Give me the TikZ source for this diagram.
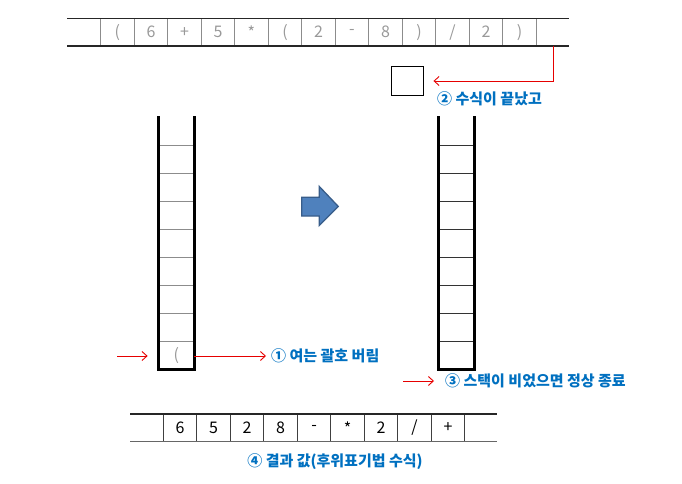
\documentclass[tikz,border=0pt]{standalone}
\usepackage{fontspec}
\setmainfont{Noto Sans CJK KR}
\usetikzlibrary{arrows.meta}
\definecolor{lblblue}{RGB}{0,112,192}
\definecolor{redl}{RGB}{230,0,0}
\definecolor{arrfill}{RGB}{79,129,189}
\definecolor{arrdraw}{RGB}{56,93,138}
\tikzset{
  cellt/.style={inner sep=0pt, minimum width=33.5pt, minimum height=27.7pt, text=black!40, font=\fontsize{16}{16}\selectfont},
  cellb/.style={inner sep=0pt, minimum width=33.5pt, minimum height=27.7pt, text=black, font=\fontsize{16}{16}\selectfont},
  scell/.style={inner sep=0pt, minimum width=35pt, minimum height=27.9pt, text=black!40, font=\fontsize{16}{16}\selectfont},
  lbl/.style={inner sep=0pt, text=lblblue, font=\fontsize{15}{15}\selectfont\bfseries},
  redarrow/.style={draw=redl, line width=0.9pt, -{Straight Barb[length=5pt,width=9pt]}},
  thickl/.style={line width=3pt, line cap=rect},
}
\begin{document}
\begin{tikzpicture}[x=1pt,y=-1pt]
\useasboundingbox (0,0) rectangle (682,484);
% ---------- top array ----------
\foreach \c [count=\i from 0] in {{(},6,+,5,*,{(},2,-,8,{)},/,2,{)}}{
  \node[cellt] (t\i) at ({117.45+33.5*\i},32.15) {\c};
}
\node[cellt] (t13) at ({117.45+33.5*13},32.15) {};
\foreach \k in {0,...,13}{
  \draw[black!45, line width=0.9pt] ({100.7+33.5*\k},18.3) -- ({100.7+33.5*\k},46);
}
\draw[black!85, line width=1.1pt] (67,18.3) -- (569,18.3);
\draw[black!85, line width=1.1pt] (67,46) -- (569,46);
% ---------- box and label 2 ----------
\node[draw=black, line width=0.9pt, minimum width=32pt, minimum height=29pt, inner sep=0pt] (box) at (407,81) {};
\draw[redarrow] (t13.south) |- ([xshift=10pt]box.east);
\node[lbl, anchor=west] (l2) at (437,99) {② 수식이 끝났고};
% ---------- left stack ----------
\foreach \j in {1,...,9}{
  \node[scell] (ls\j) at (176.35,{118+27.9*(\j-0.5)}) {\ifnum\j=9 (\fi};
}
\foreach \j in {1,...,8}{
  \draw[black!45, line width=1.1pt] (158.7,{118+27.9*\j}) -- (194,{118+27.9*\j});
}
\draw[thickl] (158.7,118) -- (158.7,369) -- (194,369) -- (194,118);
% ---------- right stack ----------
\foreach \j in {1,...,9}{
  \node[scell] (rs\j) at (456.25,{118+27.9*(\j-0.5)}) {};
}
\foreach \j in {1,...,8}{
  \draw[black!80, line width=1.1pt] (438.5,{118+27.9*\j}) -- (474,{118+27.9*\j});
}
\draw[thickl] (438.5,118) -- (438.5,369) -- (474,369) -- (474,118);
% ---------- big blue arrow ----------
\draw[fill=arrfill, draw=arrdraw, line width=1.3pt, line join=miter]
  (301.7,197.3) -- (319.3,197.3) -- (319.3,186.5) -- (338.3,206.5) -- (319.3,225.5) -- (319.3,216) -- (301.7,216) -- cycle;
% ---------- label 1 ----------
\node[lbl, anchor=west] (l1) at (271,356) {① 여는 괄호 버림};
\coordinate (in1) at (117,356);
\draw[redarrow, shorten >=11pt] (in1) -- (in1 -| ls9.west);
\draw[redarrow, shorten >=5pt] (ls9.east |- l1.west) -- (l1.west);
% ---------- label 3 ----------
\node[lbl, anchor=west] (l3) at (445,381) {③ 스택이 비었으면 정상 종료};
\coordinate (in3) at (403,381);
\draw[redarrow, shorten >=11pt] (in3) -- (l3.west);
% ---------- bottom array ----------
\foreach \c [count=\i from 0] in {6,5,2,8,-,*,2,/,+}{
  \node[cellb] (b\i) at ({180.05+33.5*\i},427.85) {\c};
}
\node[cellb] (b9) at ({180.05+33.5*9},427.85) {};
\foreach \k in {0,...,9}{
  \draw[black!75, line width=0.9pt] ({163.3+33.5*\k},414) -- ({163.3+33.5*\k},441.7);
}
\draw[black!85, line width=1.1pt] (130,414) -- (497,414);
\draw[black!60, line width=1.4pt] (130,441.7) -- (497,441.7);
\node[lbl] (l4) at (335,462) {④ 결과 값(후위표기법 수식)};
\end{tikzpicture}
\end{document}
